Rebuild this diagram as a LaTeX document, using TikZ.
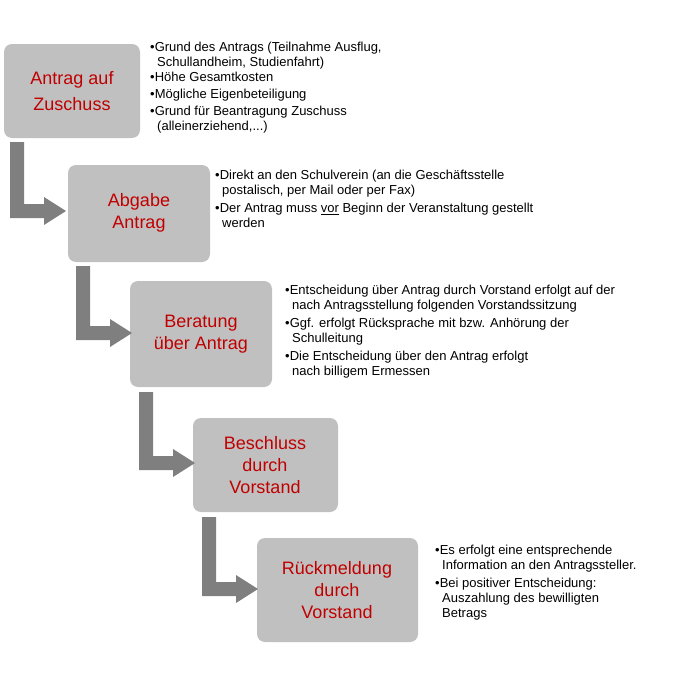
\documentclass[tikz,border=0pt]{standalone}
\usepackage{fontspec}
\setmainfont{Liberation Sans}
\definecolor{boxgray}{HTML}{C0C0C0}
\definecolor{arrgray}{HTML}{7F7F7F}
\definecolor{titlered}{HTML}{C00000}
\begin{document}
\begin{tikzpicture}[x=1pt,y=-1pt]
\tikzset{
 stepbox/.style={fill=boxgray,rounded corners=8pt,draw=none},
 ttl/.style={text=titlered,font=\fontsize{18}{22}\selectfont,align=center},
 blist/.style={anchor=north west,align=left,font=\fontsize{13}{15}\selectfont,inner sep=0pt},
 barrow/.style={fill=arrgray,draw=none}
}
\useasboundingbox (0,0) rectangle (694,680);
\newcommand{\bentarrow}[3]{% x, ytop, ybottom(center of horizontal)
 \fill[arrgray] (#1,#2) -- (#1+14,#2) -- (#1+14,#3-7) -- (#1+34,#3-7) -- (#1+34,#3-14) -- (#1+56,#3) -- (#1+34,#3+14) -- (#1+34,#3+7) -- (#1,#3+7) -- cycle;}
\fill[stepbox] (4,44) rectangle (140,138);
\node[ttl] (t1) at (72,91) {Antrag auf\\[4pt]Zuschuss};
\fill[stepbox] (68,165) rectangle (210,262);
\node[ttl] (t2) at (139,213) {Abgabe\\Antrag};
\fill[stepbox] (130,281) rectangle (272,387);
\node[ttl] (t3) at (201,334) {Beratung\\über Antrag};
\fill[stepbox] (193,418) rectangle (338,512);
\node[ttl] (t4) at (265,465) {Beschluss\\durch\\Vorstand};
\fill[stepbox] (257,538) rectangle (418,642);
\node[ttl] (t5) at (337,590) {Rückmeldung\\durch\\Vorstand};
\bentarrow{10}{142}{211}
\bentarrow{76}{266}{333}
\bentarrow{139}{392}{463}
\bentarrow{202}{517}{589}
\node[blist] (l1) at (150,42) {•Grund des Antrags (Teilnahme Ausflug,\\
\hspace*{7pt}Schullandheim, Studienfahrt)\\
•Höhe Gesamtkosten\\[2pt]
•Mögliche Eigenbeteiligung\\[2pt]
•Grund für Beantragung Zuschuss\\
\hspace*{7pt}(alleinerziehend,...)};
\node[blist] (l2) at (215,170) {•Direkt an den Schulverein (an die Geschäftsstelle\\
\hspace*{7pt}postalisch, per Mail oder per Fax)\\[3pt]
•Der Antrag muss \underline{vor} Beginn der Veranstaltung gestellt\\
\hspace*{7pt}werden};
\node[blist] (l3) at (285,285) {•Entscheidung über Antrag durch Vorstand erfolgt auf der\\
\hspace*{7pt}nach Antragsstellung folgenden Vorstandssitzung\\[3pt]
•Ggf. erfolgt Rücksprache mit bzw. Anhörung der\\
\hspace*{7pt}Schulleitung\\[3pt]
•Die Entscheidung über den Antrag erfolgt\\
\hspace*{7pt}nach billigem Ermessen};
\node[blist] (l4) at (435,545) {•Es erfolgt eine entsprechende\\
\hspace*{7pt}Information an den Antragssteller.\\[3pt]
•Bei positiver Entscheidung:\\
\hspace*{7pt}Auszahlung des bewilligten\\
\hspace*{7pt}Betrags};
\end{tikzpicture}
\end{document}
